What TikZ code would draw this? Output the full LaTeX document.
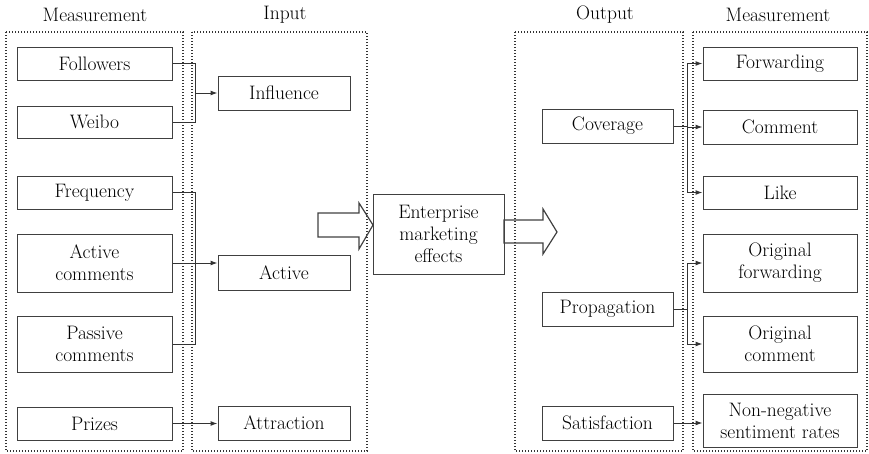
\documentclass[tikz,border=0pt]{standalone}
\usepackage{fontspec}
\usetikzlibrary{arrows.meta,calc,positioning}

\begin{document}
\begin{tikzpicture}[x=1pt,y=-1pt,
        box/.style={draw=black!75,line width=1pt,align=center,text=black,inner sep=0pt},
        frame/.style={draw=black!80,line width=1.6pt,dash pattern=on 1.4pt off 1.6pt},
        head/.style={text=black},
        link/.style={draw=black!80,line width=1pt},
        arr/.style={link,-{Latex[length=7pt,width=5pt]}},
        fat/.style={draw=black!75,line width=1.2pt,line join=miter}]
        \fontsize{19.5}{22}\selectfont
        \useasboundingbox (0,0) rectangle (869,453);

        % dotted frames of the four columns
        \draw[frame] (6,32) rectangle (183,451);
        \draw[frame] (192,32) rectangle (367,451);
        \draw[frame] (515,32) rectangle (683,451);
        \draw[frame] (693,32) rectangle (867,451);

        % column headings
        \node[head] (hm1) at (95,15) {Measurement};
        \node[head] (hin) at (285,15) {Input};
        \node[head] (hout) at (605,15) {Output};
        \node[head] (hm2) at (778,15) {Measurement};

        % left measurement boxes
        \node[box,minimum width=155pt,minimum height=33pt] (fol) at (94.5,63.5) {Followers};
        \node[box,minimum width=155pt,minimum height=32pt] (wei) at (94.5,122) {Weibo};
        \node[box,minimum width=155pt,minimum height=33pt] (fre) at (94.5,192.5) {Frequency};
        \node[box,minimum width=155pt,minimum height=58pt] (actc) at (94.5,263) {Active\\comments};
        \node[box,minimum width=155pt,minimum height=56pt] (pasc) at (94.5,344) {Passive\\comments};
        \node[box,minimum width=155pt,minimum height=33pt] (pri) at (94.5,423.5) {Prizes};

        % input boxes
        \node[box,minimum width=132pt,minimum height=34pt] (inf) at (284,93) {Influence};
        \node[box,minimum width=132pt,minimum height=35pt] (act) at (284,272.5) {Active};
        \node[box,minimum width=132pt,minimum height=34pt] (att) at (284,423) {Attraction};

        % centre box
        \node[box,minimum width=131pt,minimum height=80pt] (ent) at (438.5,234) {Enterprise\\marketing\\effects};

        % output boxes
        \node[box,minimum width=131pt,minimum height=34pt] (cov) at (607.5,126) {Coverage};
        \node[box,minimum width=131pt,minimum height=34pt] (pro) at (607.5,309) {Propagation};
        \node[box,minimum width=131pt,minimum height=34pt] (sat) at (607.5,423) {Satisfaction};

        % right measurement boxes
        \node[box,minimum width=154pt,minimum height=33pt] (fwd) at (780,63.5) {Forwarding};
        \node[box,minimum width=154pt,minimum height=34pt] (com) at (780,127) {Comment};
        \node[box,minimum width=154pt,minimum height=33pt] (lik) at (780,192.5) {Like};
        \node[box,minimum width=154pt,minimum height=58pt] (ofw) at (780,263) {Original\\forwarding};
        \node[box,minimum width=154pt,minimum height=56pt] (ocm) at (780,344) {Original\\comment};
        \node[box,minimum width=154pt,minimum height=53pt] (nns) at (780,420.5) {Non-negative\\sentiment rates};

        % x of the brackets
        \coordinate (lbx) at (195,0);
        \coordinate (rbx) at (687,0);

        % left brackets into the input boxes
        \draw[link] (fol.east) -| (lbx |- wei.east) -- (wei.east);
        \draw[arr] (lbx |- inf.west) -- (inf.west);
        \draw[link] (fre.east) -| (lbx |- pasc.east) -- (pasc.east);
        \draw[arr] (actc.east) -- (actc.east -| act.west);
        \draw[arr] (pri.east) -- (pri.east -| att.west);

        % right brackets out of the output boxes
        \draw[link] (cov.east) -- (rbx |- cov.east);
        \draw[link] (rbx |- fwd.west) -- (rbx |- lik.west);
        \foreach \b in {fwd,com,lik}{
            \draw[arr] (rbx |- \b.west) -- (\b.west);
        }
        \draw[link] (pro.east) -- (rbx |- pro.east);
        \draw[link] (rbx |- ofw.west) -- (rbx |- ocm.west);
        \foreach \b in {ofw,ocm}{
            \draw[arr] (rbx |- \b.west) -- (\b.west);
        }
        \draw[arr] (sat.east) -- (sat.east -| nns.west);

        % fat arrows in and out of the centre box
        \draw[fat] (318,213) -- (359,213) -- (359,203) -- (373,225) -- (359,249) -- (359,237) -- (318,237) -- cycle;
        \draw[fat] (504,220) -- (543,220) -- (543,209) -- (557,232) -- (543,254) -- (543,243) -- (504,243) -- cycle;

    \end{tikzpicture}
\end{document}
